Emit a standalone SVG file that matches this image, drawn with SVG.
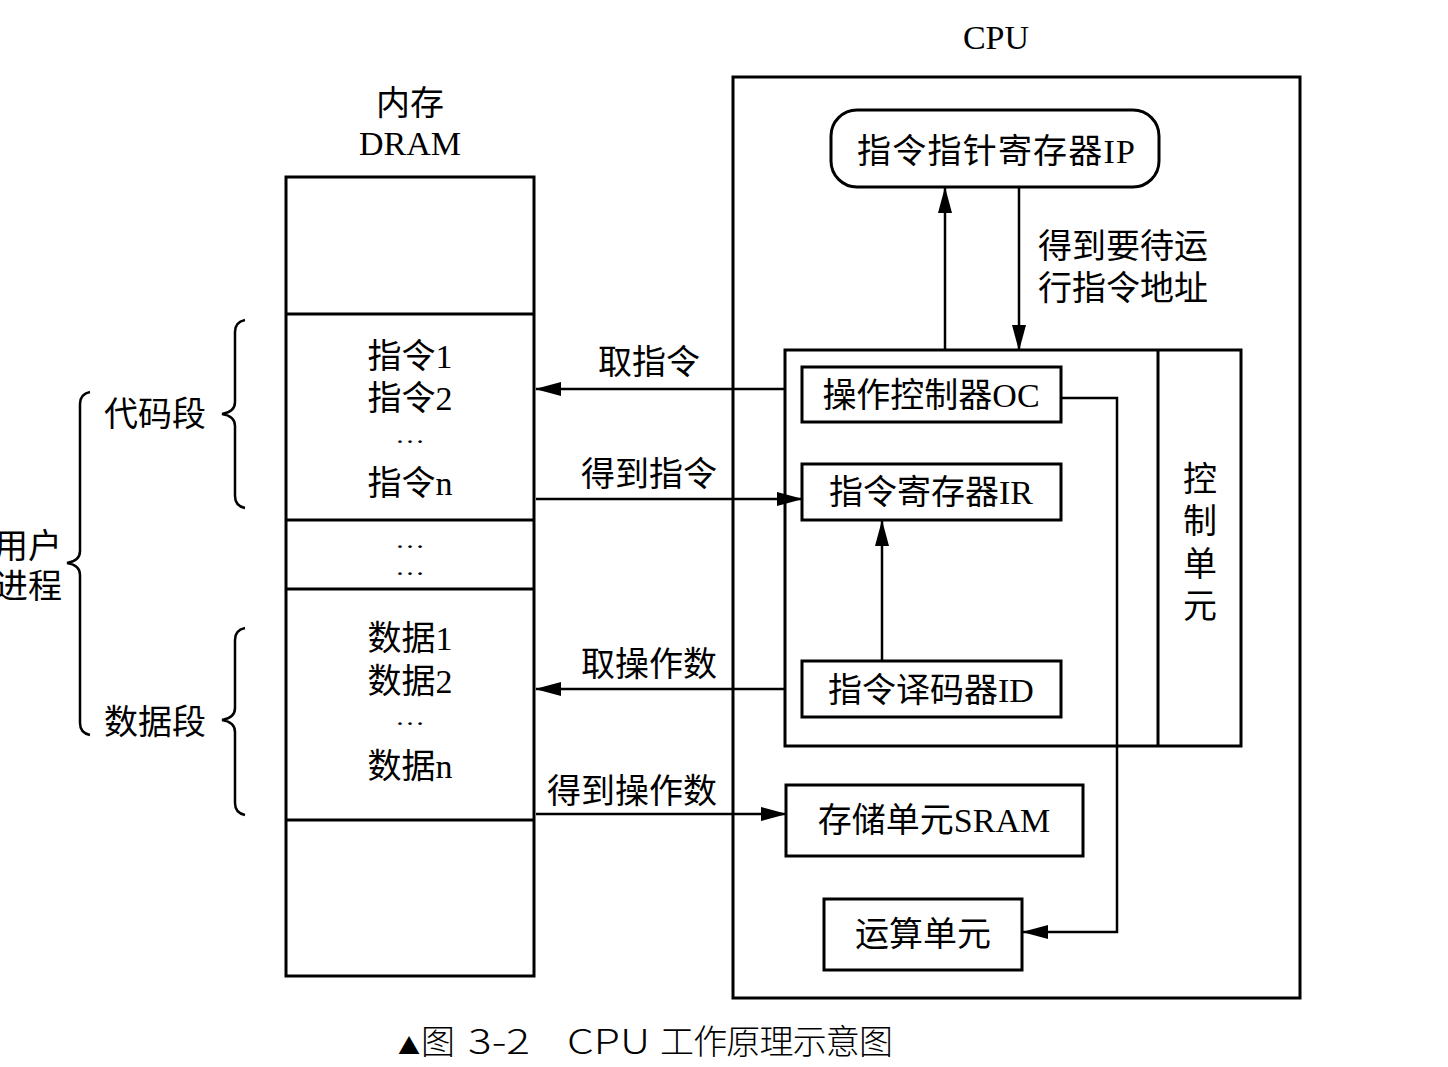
<svg xmlns="http://www.w3.org/2000/svg" width="1448" height="1067" viewBox="0 0 1448 1067">
<defs>
<style>
.t{font-family:"Liberation Serif","Noto Sans CJK SC",serif;font-size:34px;fill:#000}
.c{text-anchor:middle}
.d{font-family:"Liberation Serif",serif;font-size:23px;text-anchor:middle;fill:#000}
.box{fill:none;stroke:#000;stroke-width:3}
.ln{fill:none;stroke:#000;stroke-width:2.5}
.br{fill:none;stroke:#000;stroke-width:2.5}
.cap{font-family:"Noto Sans CJK SC","DejaVu Sans",sans-serif;font-size:34px;font-weight:300;fill:#000}
</style>
<marker id="ah" markerUnits="userSpaceOnUse" markerWidth="26" markerHeight="14" refX="25" refY="7" orient="auto">
<path d="M0,0 L26,7 L0,14 Z" fill="#000"/>
</marker>
</defs>
<rect width="1448" height="1067" fill="#fff"/>

<g id="memory">
<rect class="box" x="286" y="177" width="248" height="799"/>
<line class="box" x1="286" y1="314" x2="534" y2="314"/>
<line class="box" x1="286" y1="520" x2="534" y2="520"/>
<line class="box" x1="286" y1="589" x2="534" y2="589"/>
<line class="box" x1="286" y1="820" x2="534" y2="820"/>
<text class="t c" x="410" y="115">内存</text>
<text class="t c" x="410" y="155">DRAM</text>
<text class="t c" x="410" y="368">指令1</text>
<text class="t c" x="410" y="410">指令2</text>
<text class="d" x="410" y="443" textLength="30" lengthAdjust="spacingAndGlyphs">…</text>
<text class="t c" x="410" y="495">指令n</text>
<text class="d" x="410" y="548" textLength="30" lengthAdjust="spacingAndGlyphs">…</text>
<text class="d" x="410" y="575" textLength="30" lengthAdjust="spacingAndGlyphs">…</text>
<text class="t c" x="410" y="650">数据1</text>
<text class="t c" x="410" y="693">数据2</text>
<text class="d" x="410" y="725" textLength="30" lengthAdjust="spacingAndGlyphs">…</text>
<text class="t c" x="410" y="778">数据n</text>
</g>

<g id="braces">
<path class="br" d="M245,320 Q235,322 235,332 L235,402 Q235,412 222,414 Q235,416 235,426 L235,496 Q235,506 245,508"/>
<path class="br" d="M245,628 Q235,630 235,640 L235,708 Q235,718 222,720 Q235,722 235,732 L235,803 Q235,813 245,815"/>
<path class="br" d="M90,392 Q80,394 80,404 L80,551 Q80,561 67,563 Q80,565 80,575 L80,723 Q80,733 90,735"/>
<text class="t" x="104" y="426">代码段</text>
<text class="t" x="104" y="734">数据段</text>
<text class="t" x="-6" y="558">用户</text>
<text class="t" x="-6" y="598">进程</text>
</g>

<g id="connectors">
<line class="ln" x1="785" y1="389" x2="536" y2="389" marker-end="url(#ah)"/>
<line class="ln" x1="536" y1="499" x2="802" y2="499" marker-end="url(#ah)"/>
<line class="ln" x1="785" y1="689" x2="536" y2="689" marker-end="url(#ah)"/>
<line class="ln" x1="536" y1="814" x2="786" y2="814" marker-end="url(#ah)"/>
<line class="ln" x1="945" y1="350" x2="945" y2="188" marker-end="url(#ah)"/>
<line class="ln" x1="1019" y1="187" x2="1019" y2="350" marker-end="url(#ah)"/>
<line class="ln" x1="882" y1="661" x2="882" y2="521" marker-end="url(#ah)"/>
<polyline class="ln" points="1061,398 1117,398 1117,932 1023,932" marker-end="url(#ah)"/>
<text class="t" x="598" y="374">取指令</text>
<text class="t" x="581" y="486">得到指令</text>
<text class="t" x="581" y="676">取操作数</text>
<text class="t" x="547" y="803">得到操作数</text>
<text class="t" x="1038" y="258">得到要待运</text>
<text class="t" x="1038" y="300">行指令地址</text>
</g>

<g id="cpu">
<rect class="box" x="733" y="77" width="567" height="921"/>
<text class="t c" x="996" y="49">CPU</text>
</g>

<g id="ip">
<rect class="box" x="831" y="110" width="328" height="77" rx="26"/>
<text class="t c" x="996" y="163" textLength="278" lengthAdjust="spacing">指令指针寄存器IP</text>
</g>

<g id="control">
<rect class="box" x="785" y="350" width="456" height="396"/>
<line class="box" x1="1158" y1="350" x2="1158" y2="746"/>
<text class="t c" x="1200" y="491">控</text>
<text class="t c" x="1200" y="533">制</text>
<text class="t c" x="1200" y="576">单</text>
<text class="t c" x="1200" y="618">元</text>
</g>

<g id="oc">
<rect class="box" x="802" y="367" width="259" height="55"/>
<text class="t c" x="931" y="407">操作控制器OC</text>
</g>

<g id="ir">
<rect class="box" x="802" y="464" width="259" height="56"/>
<text class="t c" x="931" y="504">指令寄存器IR</text>
</g>

<g id="id">
<rect class="box" x="802" y="661" width="259" height="56"/>
<text class="t c" x="931" y="702">指令译码器ID</text>
</g>

<g id="sram">
<rect class="box" x="786" y="785" width="297" height="71"/>
<text class="t c" x="934" y="832">存储单元SRAM</text>
</g>

<g id="alu">
<rect class="box" x="824" y="899" width="198" height="71"/>
<text class="t c" x="923" y="946">运算单元</text>
</g>

<text class="cap" y="1054"><tspan x="398" font-size="22">▲</tspan><tspan x="421">图</tspan><tspan x="468" textLength="62" lengthAdjust="spacingAndGlyphs">3-2</tspan><tspan x="567" textLength="83" lengthAdjust="spacingAndGlyphs">CPU</tspan><tspan x="660" textLength="233" lengthAdjust="spacing">工作原理示意图</tspan></text>
</svg>
